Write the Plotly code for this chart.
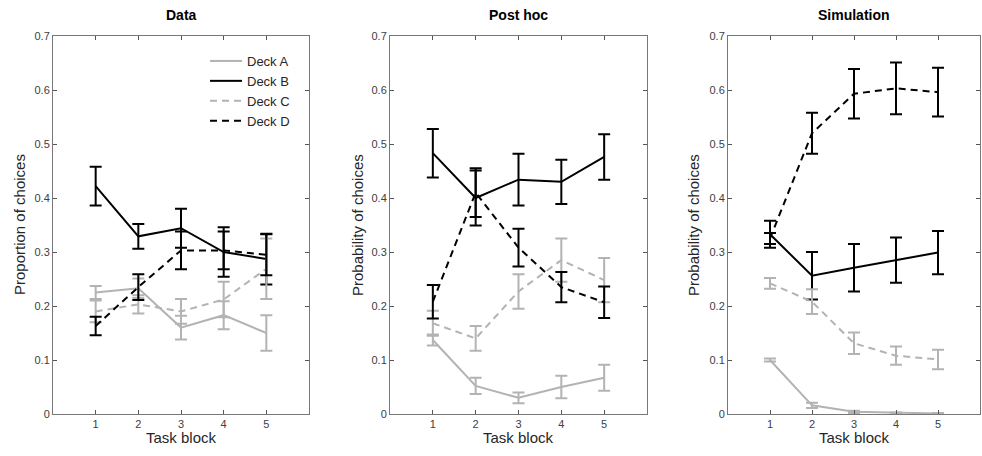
import plotly.graph_objects as go

blocks = [1, 2, 3, 4, 5]
panel_titles = ["Data", "Post hoc", "Simulation"]
y_titles = ["Proportion of choices", "Probability of choices", "Probability of choices"]
x_title = "Task block"
deck_names = ["Deck A", "Deck B", "Deck C", "Deck D"]

# Data panel
data_A = [0.225, 0.233, 0.160, 0.183, 0.150]
data_A_err = [0.012, 0.018, 0.022, 0.026, 0.033]
data_B = [0.422, 0.329, 0.344, 0.300, 0.287]
data_B_err = [0.036, 0.023, 0.036, 0.046, 0.047]
data_C = [0.190, 0.203, 0.190, 0.212, 0.269]
data_C_err = [0.020, 0.017, 0.023, 0.033, 0.056]
data_D = [0.163, 0.235, 0.303, 0.303, 0.295]
data_D_err = [0.017, 0.024, 0.035, 0.035, 0.038]

# Post hoc panel
post_A = [0.137, 0.052, 0.030, 0.050, 0.067]
post_A_err = [0.010, 0.015, 0.010, 0.021, 0.024]
post_B = [0.483, 0.400, 0.434, 0.430, 0.476]
post_B_err = [0.045, 0.051, 0.048, 0.041, 0.042]
post_C = [0.168, 0.140, 0.227, 0.285, 0.248]
post_C_err = [0.023, 0.023, 0.032, 0.040, 0.041]
post_D = [0.208, 0.410, 0.308, 0.235, 0.207]
post_D_err = [0.031, 0.045, 0.035, 0.028, 0.029]

# Simulation panel
sim_A = [0.100, 0.016, 0.004, 0.002, 0.001]
sim_A_err = [0.003, 0.005, 0.002, 0.001, 0.001]
sim_B = [0.333, 0.256, 0.271, 0.285, 0.299]
sim_B_err = [0.025, 0.044, 0.044, 0.042, 0.040]
sim_C = [0.242, 0.208, 0.131, 0.108, 0.101]
sim_C_err = [0.010, 0.023, 0.020, 0.017, 0.018]
sim_D = [0.325, 0.520, 0.593, 0.603, 0.596]
sim_D_err = [0.010, 0.038, 0.046, 0.048, 0.045]

panels = [
    [(data_A, data_A_err), (data_B, data_B_err), (data_C, data_C_err), (data_D, data_D_err)],
    [(post_A, post_A_err), (post_B, post_B_err), (post_C, post_C_err), (post_D, post_D_err)],
    [(sim_A, sim_A_err), (sim_B, sim_B_err), (sim_C, sim_C_err), (sim_D, sim_D_err)],
]

GRAY = "#b3b3b3"
BLACK = "#000000"
styles = [
    dict(color=GRAY, dash="solid"),
    dict(color=BLACK, dash="solid"),
    dict(color=GRAY, dash="7px,5px"),
    dict(color=BLACK, dash="7px,5px"),
]

FONT = "Arial, Liberation Sans, Helvetica, sans-serif"
W, H = 982, 456
x_px = [(53, 309), (390, 647), (728, 980)]
ytitle_px = [19, 357, 693]
y_top, y_bot = 36, 414

fig = go.Figure()
layout = dict(
    width=W, height=H,
    margin=dict(l=0, r=0, t=0, b=0, autoexpand=False),
    paper_bgcolor="white", plot_bgcolor="white",
    font=dict(family=FONT, color="#404040"),
    showlegend=True,
    legend=dict(
        x=(190 + 15) / W, y=1 - 46 / H, xanchor="left", yanchor="top",
        bgcolor="rgba(0,0,0,0)", borderwidth=0,
        font=dict(family=FONT, size=13, color="#262626"),
        tracegroupgap=0, itemwidth=32,
    ),
    annotations=[],
)

ydom = [(H - y_bot) / H, (H - y_top) / H]
for p in range(3):
    xa = "xaxis" if p == 0 else f"xaxis{p+1}"
    ya = "yaxis" if p == 0 else f"yaxis{p+1}"
    xref = "x" if p == 0 else f"x{p+1}"
    yref = "y" if p == 0 else f"y{p+1}"
    x0, x1 = x_px[p]
    layout[xa] = dict(
        domain=[x0 / W, x1 / W], range=[0, 6], anchor=yref, automargin=False,
        tickvals=blocks, ticks="inside", ticklen=4, tickcolor="#555555",
        showline=True, linecolor="#777777", linewidth=1, mirror="ticks",
        showgrid=False, zeroline=False,
        tickfont=dict(size=11, color="#404040"),
    )
    layout[ya] = dict(
        domain=ydom, range=[0, 0.7], anchor=xref, automargin=False,
        tickvals=[0, 0.1, 0.2, 0.3, 0.4, 0.5, 0.6, 0.7],
        ticktext=["0", "0.1", "0.2", "0.3", "0.4", "0.5", "0.6", "0.7"],
        ticks="inside", ticklen=4, tickcolor="#555555",
        showline=True, linecolor="#777777", linewidth=1, mirror="ticks",
        showgrid=False, zeroline=False,
        tickfont=dict(size=11, color="#404040"),
    )
    layout["annotations"].append(dict(
        text=f"<b>{panel_titles[p]}</b>", x=(x0 + x1) / 2 / W, y=1 - 15 / H,
        xref="paper", yref="paper", xanchor="center", yanchor="middle",
        showarrow=False, font=dict(family=FONT, size=14, color="#000000"),
    ))
    layout["annotations"].append(dict(
        text=x_title, x=(x0 + x1) / 2 / W, y=1 - 437 / H,
        xref="paper", yref="paper", xanchor="center", yanchor="middle",
        showarrow=False, font=dict(family=FONT, size=15, color="#262626"),
    ))
    layout["annotations"].append(dict(
        text=y_titles[p], x=ytitle_px[p] / W, y=1 - 225 / H, textangle=-90,
        xref="paper", yref="paper", xanchor="center", yanchor="middle",
        showarrow=False, font=dict(family=FONT, size=15, color="#262626"),
    ))
    for d in range(4):
        vals, errs = panels[p][d]
        st = styles[d]
        fig.add_trace(go.Scatter(
            x=blocks, y=vals, mode="lines", name=deck_names[d],
            line=dict(color=st["color"], width=2, dash=st["dash"]),
            error_y=dict(type="data", array=errs, visible=True,
                         color=st["color"], thickness=2, width=6),
            xaxis=xref, yaxis=yref, showlegend=(p == 0),
        ))

fig.update_layout(**layout)
fig.write_html("out.html", config={"displayModeBar": False},
               post_script="document.body.style.margin='0px';")
